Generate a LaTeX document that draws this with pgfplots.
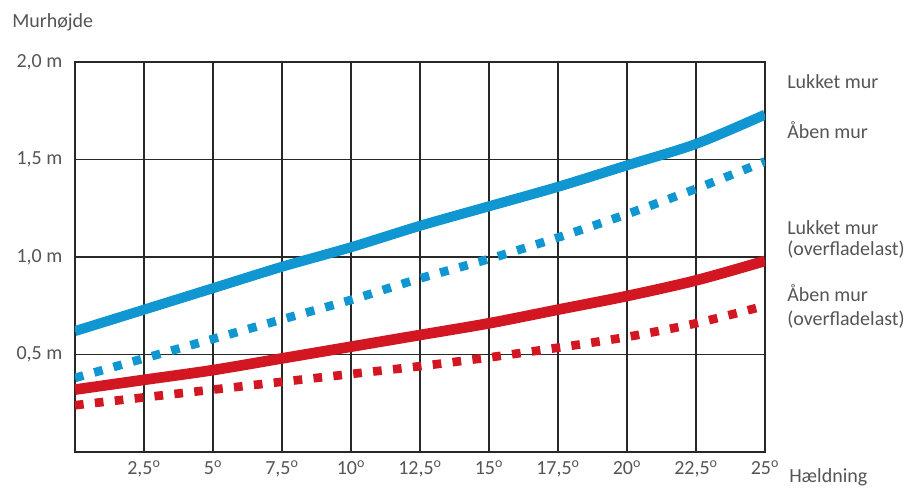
\documentclass[border=0pt]{standalone}
\usepackage{pgfplots}
\pgfplotsset{compat=1.18}
\usepackage{fontspec}
\setmainfont{Carlito}
\definecolor{murblaa}{RGB}{16,150,208}
\definecolor{murroed}{RGB}{210,22,34}
\definecolor{tekst}{RGB}{85,85,85}
\definecolor{gitter}{RGB}{40,40,40}

\pgfplotstableread{
x lukket aaben lukketo aabeno
0    0.62 0.38 0.32 0.24
2.5  0.73 0.48 0.37 0.28
5    0.84 0.58 0.42 0.32
7.5  0.95 0.68 0.48 0.36
10   1.05 0.78 0.54 0.40
12.5 1.16 0.89 0.60 0.44
15   1.26 0.99 0.66 0.485
17.5 1.36 1.10 0.73 0.535
20   1.47 1.22 0.80 0.59
22.5 1.58 1.35 0.88 0.66
25   1.73 1.49 0.98 0.75
}\murdata

\newcommand{\grad}{\textsuperscript{o}}

\begin{document}
\begin{tikzpicture}
% 1 px = 0.75pt; axis box 690x390 px
\useasboundingbox (-56.25pt,-28.5pt) rectangle (627.75pt,339pt);
\begin{axis}[
    scale only axis,
    width=517.5pt, height=292.5pt,
    xmin=0, xmax=25, ymin=0, ymax=2,
    xtick={2.5,5,...,25},
    xticklabels={{2,5\grad},{5\grad},{7,5\grad},{10\grad},{12,5\grad},{15\grad},{17,5\grad},{20\grad},{22,5\grad},{25\grad}},
    ytick={0.5,1,1.5,2},
    yticklabels={{0,5 m},{1,0 m},{1,5 m},{2,0 m}},
    major tick length=0pt,
    grid=major,
    major grid style={gitter, line width=0.9pt},
    axis line style={gitter, line width=0.9pt},
    tick label style={tekst, font=\fontsize{15}{18}\selectfont},
    xticklabel style={anchor=north, yshift=-3pt},
    yticklabel style={xshift=-6pt},
]
\addplot[murblaa, line width=7.5pt, smooth] table[x=x, y=lukket] {\murdata};
\addplot[murblaa, line width=6.5pt, smooth, dash pattern=on 6.5pt off 8.5pt] table[x=x, y=aaben] {\murdata};
\addplot[murroed, line width=8pt, smooth] table[x=x, y=lukketo] {\murdata};
\addplot[murroed, line width=6.5pt, smooth, dash pattern=on 6.5pt off 8.5pt] table[x=x, y=aabeno] {\murdata};
\end{axis}
\begin{scope}[every node/.style={tekst, font=\fontsize{15}{18}\selectfont, anchor=west, inner sep=0pt}]
\node at (-47.25pt,322.5pt) {Murhøjde};
\node at (534pt,277.5pt) {Lukket mur};
\node at (534pt,241.5pt) {Åben mur};
\node at (534pt,168pt) {Lukket mur};
\node at (534pt,151.5pt) {(overfladelast)};
\node at (534pt,119.25pt) {Åben mur};
\node at (534pt,99pt) {(overfladelast)};
\node at (535.5pt,-19pt) {Hældning};
\end{scope}
\end{tikzpicture}
\end{document}
